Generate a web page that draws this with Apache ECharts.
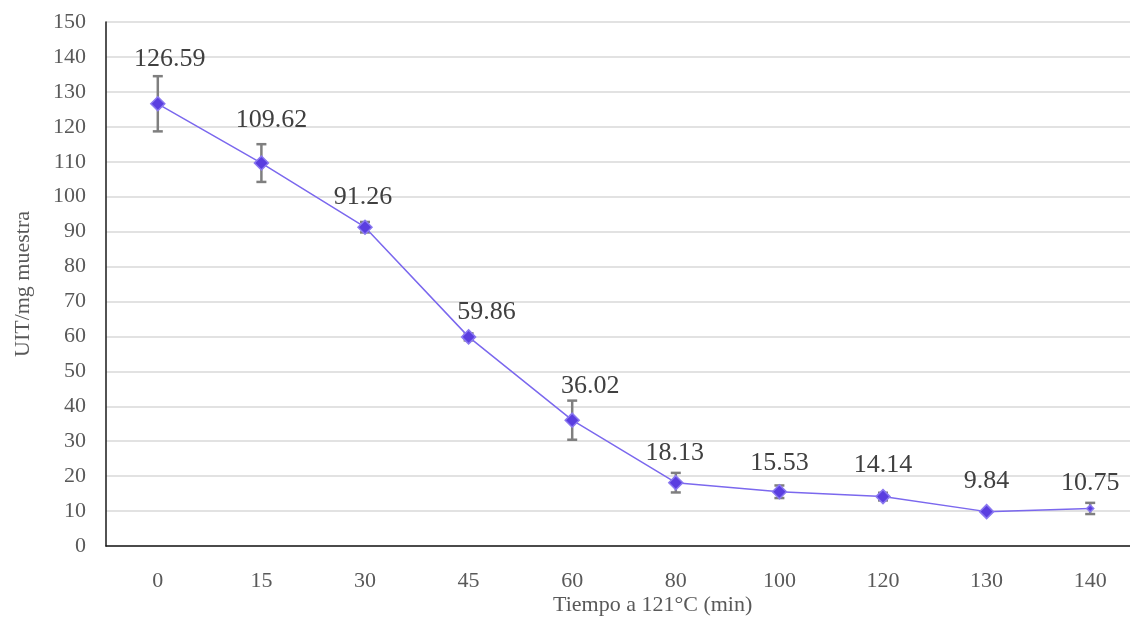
<!DOCTYPE html>
<html>
<head>
<meta charset="utf-8">
<script src="https://cdn.jsdelivr.net/npm/echarts@6/dist/echarts.min.js"></script>
<style>html,body{margin:0;padding:0;background:#fff;overflow:hidden}#c{width:1142px;height:620px}</style>
</head>
<body>
<div id="c"></div>
<script>
const categories = ['0','15','30','45','60','80','100','120','130','140'];
const values = [126.59,109.62,91.26,59.86,36.02,18.13,15.53,14.14,9.84,10.75];
const errors = [7.9,5.4,1.5,1.0,5.6,2.8,1.8,1.1,0.3,1.6];
const yTicks = {min:0, max:150, interval:10};

// layout-only: label centre offsets relative to the point (px)
const labelOffsets = [[12,-45],[10,-43],[-2,-30],[18,-25],[18,-34],[-1,-29],[0,-29],[0,-31],[0,-30],[0,-25]];
const symbolSizes = [14,14,14,14,14,14,14,14,14,7];

const FONT = '"Liberation Serif","Times New Roman",serif';
const chart = echarts.init(document.getElementById('c'), null, {renderer:'canvas'});

const errData = values.map((v,i)=>[i, v-errors[i], v+errors[i], v]);
const lineData = values.map((v,i)=>({value: v, symbolSize: symbolSizes[i]}));

chart.setOption({
  animation: false,
  grid: {left:106, right:0, top:22, bottom:74, containLabel:false},
  xAxis: {
    type:'category', data:categories, boundaryGap:true,
    axisLine:{lineStyle:{color:'#1a1a1a', width:1.5}},
    axisTick:{show:false},
    axisLabel:{fontFamily:FONT, fontSize:22, color:'#595959', margin:24},
    splitLine:{show:false}
  },
  yAxis: {
    type:'value', min:yTicks.min, max:yTicks.max, interval:yTicks.interval,
    name:'UIT/mg muestra', nameLocation:'middle', nameGap:72,
    nameTextStyle:{fontFamily:FONT, fontSize:22, color:'#595959'},
    axisLine:{show:true, lineStyle:{color:'#1a1a1a', width:1.5}},
    axisTick:{show:false},
    axisLabel:{fontFamily:FONT, fontSize:22, color:'#595959', margin:20},
    splitLine:{lineStyle:{color:'#d9d9d9', width:1.5}}
  },
  graphic: [{
    type:'text', left:553, top:594, z:10,
    style:{text:'Tiempo a 121°C (min)', font:'22px ' + FONT, fill:'#595959', textAlign:'center'}
  }],
  series: [
    {
      type:'custom',
      z:1,
      data: errData,
      renderItem: function(params, api){
        const x = api.value(0);
        const lo = api.coord([x, api.value(1)]);
        const hi = api.coord([x, api.value(2)]);
        const cap = 5;
        const style = {stroke:'#7f7f7f', lineWidth:2.5};
        return {type:'group', children:[
          {type:'line', shape:{x1:lo[0], y1:lo[1], x2:hi[0], y2:hi[1]}, style},
          {type:'line', shape:{x1:lo[0]-cap, y1:lo[1], x2:lo[0]+cap, y2:lo[1]}, style},
          {type:'line', shape:{x1:hi[0]-cap, y1:hi[1], x2:hi[0]+cap, y2:hi[1]}, style}
        ]};
      }
    },
    {
      type:'line',
      z:3,
      data: lineData,
      symbol:'diamond',
      showAllSymbol:true,
      lineStyle:{color:'#7b68ee', width:1.5},
      itemStyle:{color:'#5a3ee0', borderColor:'#8a78f0', borderWidth:1.5},
      label:{show:false}
    },
    {
      type:'custom',
      z:5,
      data: errData,
      renderItem: function(params, api){
        const i = params.dataIndex;
        const v = api.value(3);
        const p = api.coord([api.value(0), v]);
        const off = labelOffsets[i];
        return {type:'text', x:p[0]+off[0], y:p[1]+off[1],
          style:{text:v.toFixed(2), font:'26px ' + FONT, fill:'#404040', textAlign:'center', textVerticalAlign:'middle'}};
      }
    }
  ]
});
</script>
</body>
</html>
